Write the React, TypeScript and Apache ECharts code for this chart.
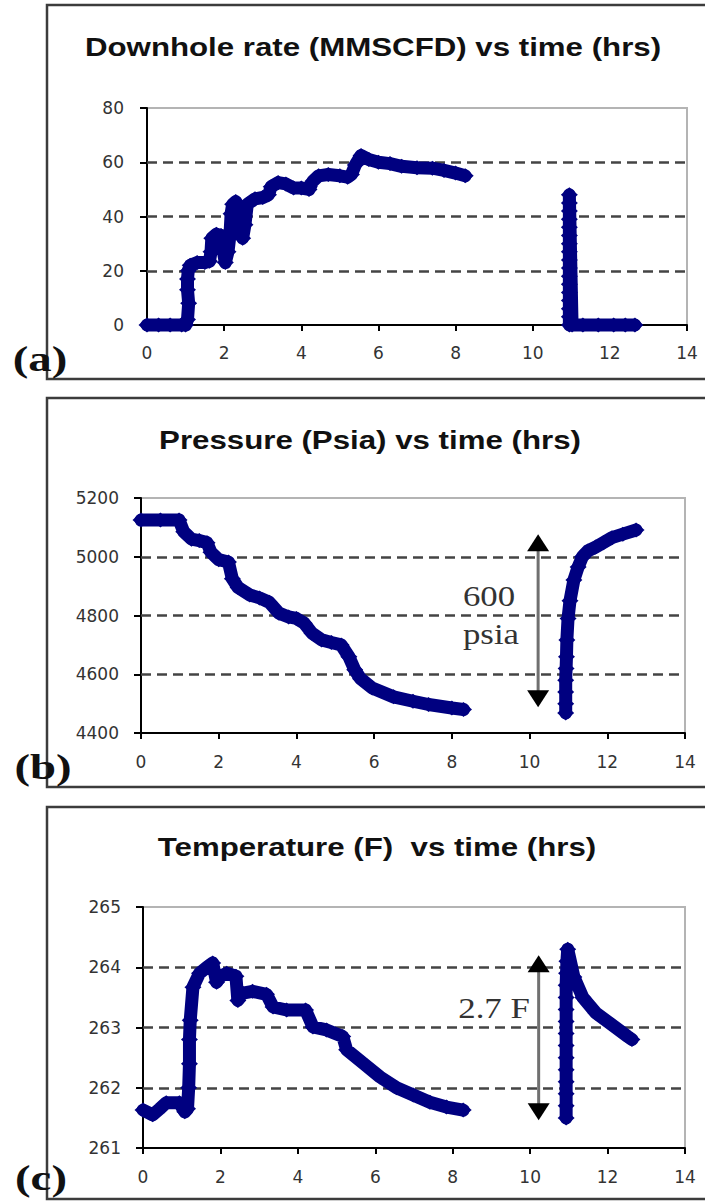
import React, { useEffect, useRef } from "react";
import * as echarts from "echarts";

// ---------- axis ticks ----------
const timeTicks = [0, 2, 4, 6, 8, 10, 12, 14];
const rateTicks = [0, 20, 40, 60, 80];
const pressureTicks = [4400, 4600, 4800, 5000, 5200];
const tempTicks = [261, 262, 263, 264, 265];

// ---------- titles ----------
const titles = [
  "Downhole rate (MMSCFD) vs time (hrs)",
  "Pressure (Psia) vs time (hrs)",
  "Temperature (F)  vs time (hrs)",
];
const panelLabels = ["(a)", "(b)", "(c)"];

// ---------- data: [time (hrs), value] ----------
const rateFlow: [number, number][] = [
  [0, 0], [0.3, 0], [0.6, 0], [0.9, 0], [1.0, 0], [1.05, 2], [1.08, 8], [1.05, 13],
  [1.05, 17], [1.07, 20], [1.12, 22], [1.3, 23], [1.5, 23], [1.62, 23.5], [1.66, 27],
  [1.68, 32], [1.8, 33.5], [1.92, 33], [1.98, 27], [2.03, 23], [2.1, 27], [2.15, 33],
  [2.18, 41], [2.22, 44.5], [2.3, 45.5], [2.37, 40], [2.42, 34], [2.48, 32], [2.54, 37],
  [2.6, 44.5], [2.8, 46.5], [3.0, 47], [3.15, 48], [3.22, 51], [3.4, 52.5], [3.6, 52],
  [3.8, 50.5], [4.0, 50.5], [4.2, 50], [4.3, 53], [4.45, 55], [4.7, 55.5], [5.0, 55],
  [5.2, 54.5], [5.3, 55.5], [5.4, 59], [5.55, 62.5], [5.75, 61], [6.0, 60], [6.3, 59.5],
  [6.6, 58.5], [7.0, 58], [7.4, 57.8], [7.7, 57], [8.0, 56], [8.25, 55],
];
const rateShutIn: [number, number][] = [
  [10.95, 0], [10.95, 3], [10.95, 6], [10.95, 9], [10.95, 12], [10.95, 15], [10.95, 18],
  [10.95, 21], [10.95, 24], [10.95, 27], [10.95, 30], [10.95, 33], [10.95, 36],
  [10.95, 39], [10.95, 42], [10.95, 45], [10.95, 48], [11.02, 0], [11.3, 0], [11.7, 0],
  [12.1, 0], [12.4, 0], [12.65, 0],
];

const pressureFlow: [number, number][] = [
  [0, 5125], [0.5, 5125], [0.98, 5125], [1.1, 5085], [1.3, 5060], [1.5, 5055],
  [1.7, 5048], [1.8, 5015], [2.0, 4990], [2.25, 4982], [2.35, 4925], [2.5, 4895],
  [2.8, 4870], [3.05, 4860], [3.3, 4845], [3.55, 4808], [3.8, 4795], [4.0, 4790],
  [4.2, 4774], [4.4, 4740], [4.65, 4717], [4.9, 4708], [5.15, 4700], [5.35, 4660],
  [5.5, 4615], [5.65, 4585], [5.95, 4553], [6.5, 4523], [7.0, 4508], [7.4, 4497],
  [8.0, 4485], [8.3, 4480],
];
const pressureShutIn: [number, number][] = [
  [10.93, 4468], [10.93, 4500], [10.93, 4540], [10.93, 4580], [10.94, 4620],
  [10.95, 4660], [10.96, 4717], [10.99, 4790], [11.04, 4850], [11.14, 4921],
  [11.25, 4965], [11.36, 5000], [11.5, 5020], [11.7, 5033], [11.9, 5048],
  [12.12, 5065], [12.4, 5077], [12.74, 5091],
];

const tempFlow: [number, number][] = [
  [0, 261.63], [0.25, 261.55], [0.43, 261.65], [0.6, 261.75], [0.94, 261.75],
  [1.08, 261.6], [1.15, 261.65], [1.18, 262.0], [1.2, 262.4], [1.2, 262.8],
  [1.22, 263.12], [1.29, 263.67], [1.46, 263.9], [1.65, 264.0], [1.8, 264.07],
  [1.9, 263.75], [2.0, 263.85], [2.16, 263.9], [2.4, 263.85], [2.45, 263.45],
  [2.58, 263.57], [2.83, 263.6], [3.19, 263.55], [3.36, 263.34], [3.71, 263.29],
  [4.2, 263.29], [4.39, 263.01], [4.74, 262.96], [5.16, 262.85], [5.26, 262.63],
  [5.68, 262.41], [6.12, 262.18], [6.55, 262.0], [6.98, 261.88], [7.41, 261.76],
  [7.84, 261.68], [8.27, 261.63],
];
const tempShutIn: [number, number][] = [
  [10.93, 261.5], [10.93, 261.7], [10.93, 261.9], [10.93, 262.1], [10.93, 262.3],
  [10.93, 262.5], [10.93, 262.7], [10.93, 262.9], [10.93, 263.1], [10.93, 263.3],
  [10.93, 263.5], [10.93, 263.7], [10.94, 263.9], [10.95, 264.1], [10.97, 264.3],
  [11.13, 263.84], [11.36, 263.5], [11.7, 263.24], [12.06, 263.07], [12.52, 262.85],
  [12.63, 262.8],
];

// ---------- annotation arrows: [time, low end, high end] ----------
const pressureArrow = [10.22, 4517, 5048];
const tempArrow = [10.22, 261.6, 264.06];

const NAVY = "#000080";
const TICK_FONT = "DejaVu Sans";

function makeAxes(i: number, ticks: number[], yMargin: number, xMargin: number) {
  return {
    x: {
      gridIndex: i,
      type: "value",
      min: timeTicks[0],
      max: timeTicks[timeTicks.length - 1],
      interval: timeTicks[1] - timeTicks[0],
      axisLine: { show: true, onZero: false, lineStyle: { color: "#000", width: 2 } },
      axisTick: { show: true, length: 6, lineStyle: { color: "#000", width: 2 } },
      axisLabel: {
        margin: xMargin, fontSize: 17, color: "#333", fontFamily: TICK_FONT,
        formatter: (v: number) => String(v),
      },
      splitLine: { show: false },
    },
    y: {
      gridIndex: i,
      type: "value",
      min: ticks[0],
      max: ticks[ticks.length - 1],
      interval: ticks[1] - ticks[0],
      axisLine: { show: true, onZero: false, lineStyle: { color: "#000", width: 2 } },
      axisTick: { show: true, length: 7, lineStyle: { color: "#000", width: 2 } },
      axisLabel: {
        margin: yMargin, fontSize: 17, color: "#333", fontFamily: TICK_FONT,
        formatter: (v: number) => String(v),
      },
      splitLine: { show: false },
    },
  };
}

function dataSeries(i: number, data: [number, number][]) {
  return {
    type: "line",
    xAxisIndex: i,
    yAxisIndex: i,
    data,
    symbol: "diamond",
    symbolSize: [17, 15],
    showAllSymbol: true,
    clip: false,
    silent: true,
    z: 10,
    itemStyle: { color: NAVY },
    lineStyle: { color: NAVY, width: 13, join: "round", cap: "round" },
  };
}

function gridLineSeries(i: number, ticks: number[]) {
  return {
    type: "line",
    xAxisIndex: i,
    yAxisIndex: i,
    data: [],
    silent: true,
    z: 1,
    markLine: {
      silent: true,
      z: 2,
      symbol: ["none", "none"],
      label: { show: false },
      lineStyle: { type: [10, 6], color: "#444", width: 2.5 },
      data: ticks.slice(1, -1).map((v) => ({ yAxis: v })),
    },
  };
}

function arrowSeries(i: number, arrow: number[]) {
  const [t, lo, hi] = arrow;
  return {
    type: "line",
    xAxisIndex: i,
    yAxisIndex: i,
    data: [[t, lo], [t, hi]],
    symbol: "none",
    silent: true,
    z: 4,
    lineStyle: { color: "#707070", width: 3 },
    markPoint: {
      z: 9,
      silent: true,
      symbol: "triangle",
      symbolSize: [22, 17],
      itemStyle: { color: "#000" },
      label: { show: false },
      data: [
        { coord: [t, hi] },
        { coord: [t, lo], symbolRotate: 180 },
      ],
    },
  };
}

function txt(x: number, y: number, text: string, font: string, fill: string, scaleX: number) {
  return {
    type: "text",
    x,
    y,
    scaleX,
    z: 20,
    style: {
      text,
      font,
      fill,
      align: "center",
      verticalAlign: "middle",
      textAlign: "center",
      textVerticalAlign: "middle",
    },
  };
}

export default function App() {
  const ref = useRef<HTMLDivElement>(null);

  useEffect(() => {
    document.body.style.margin = "0";
    if (!ref.current) return;
    const chart = echarts.init(ref.current, undefined, { renderer: "svg" });

    const a = makeAxes(0, rateTicks, 23, 19);
    const b = makeAxes(1, pressureTicks, 22, 20);
    const c = makeAxes(2, tempTicks, 22, 20);

    const titleFont = 'bold 25px "Liberation Sans", Arial, sans-serif';
    const labelFont = 'bold 36px "Liberation Serif", "Times New Roman", serif';
    const noteFont = '30px "Liberation Serif", "Times New Roman", serif';

    const boxStyle = { fill: "none", stroke: "#3c3c3c", lineWidth: 2.5 };

    chart.setOption({
      animation: false,
      backgroundColor: "#fff",
      grid: [
        { left: 147, top: 108, width: 540, height: 217, show: true, borderColor: "#b4b4b4", borderWidth: 2 },
        { left: 141, top: 498, width: 544, height: 235, show: true, borderColor: "#b4b4b4", borderWidth: 2 },
        { left: 143, top: 907, width: 542, height: 241, show: true, borderColor: "#b4b4b4", borderWidth: 2 },
      ],
      xAxis: [a.x, b.x, c.x],
      yAxis: [a.y, b.y, c.y],
      series: [
        gridLineSeries(0, rateTicks),
        gridLineSeries(1, pressureTicks),
        gridLineSeries(2, tempTicks),
        arrowSeries(1, pressureArrow),
        arrowSeries(2, tempArrow),
        dataSeries(0, rateFlow),
        dataSeries(0, rateShutIn),
        dataSeries(1, pressureFlow),
        dataSeries(1, pressureShutIn),
        dataSeries(2, tempFlow),
        dataSeries(2, tempShutIn),
      ],
      graphic: [
        { type: "rect", z: 0, shape: { x: 47, y: 5, width: 700, height: 374 }, style: boxStyle },
        { type: "rect", z: 0, shape: { x: 47, y: 398, width: 700, height: 389 }, style: boxStyle },
        { type: "rect", z: 0, shape: { x: 47, y: 807, width: 700, height: 392 }, style: boxStyle },
        txt(373, 47, titles[0], titleFont, "#111", 1.25),
        txt(370, 440, titles[1], titleFont, "#111", 1.25),
        txt(377, 847, titles[2], titleFont, "#111", 1.25),
        txt(40, 359, panelLabels[0], labelFont, "#111", 1.3),
        txt(43, 767, panelLabels[1], labelFont, "#111", 1.3),
        txt(41, 1178, panelLabels[2], labelFont, "#111", 1.3),
        txt(489, 596, "600", noteFont, "#333", 1.16),
        txt(491, 634, "psia", noteFont, "#333", 1.16),
        txt(494, 1008, "2.7 F", noteFont, "#333", 1.16),
      ],
    });

    return () => chart.dispose();
  }, []);

  return <div ref={ref} style={{ width: 705, height: 1201 }} />;
}
